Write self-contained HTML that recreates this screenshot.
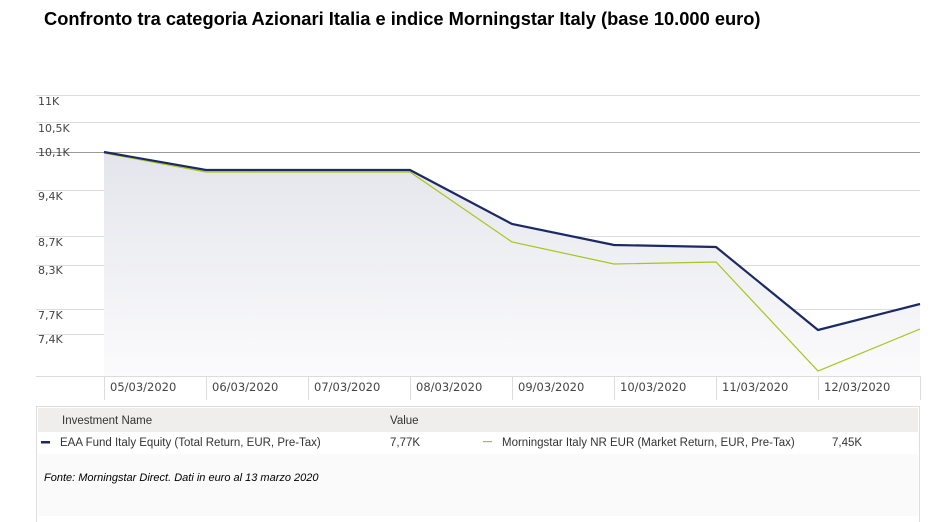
<!DOCTYPE html>
<html><head><style>
body{margin:0;background:#fff;width:940px;height:522px;overflow:hidden;font-family:"DejaVu Sans","Liberation Sans",sans-serif;}
.t{position:absolute;left:44px;top:8px;font:bold 18.3px "Liberation Sans",sans-serif;color:#000;}
</style></head><body>
<div class="t">Confronto tra categoria Azionari Italia e indice Morningstar Italy (base 10.000 euro)</div>
<svg width="940" height="522" style="position:absolute;left:0;top:0" font-family="DejaVu Sans, Liberation Sans, sans-serif">
<defs><linearGradient id="g" x1="0" y1="0" x2="0" y2="1"><stop offset="0" stop-color="#e4e5ec"/><stop offset="1" stop-color="#fbfbfc"/></linearGradient></defs>
<g stroke="#dcdcdc" stroke-width="1">
<line x1="36" x2="920" y1="95.5" y2="95.5"/><line x1="36" x2="920" y1="122.5" y2="122.5"/>
<line x1="36" x2="920" y1="190.5" y2="190.5"/><line x1="36" x2="920" y1="236.5" y2="236.5"/>
<line x1="36" x2="920" y1="265.5" y2="265.5"/><line x1="36" x2="920" y1="309.5" y2="309.5"/>
<line x1="36" x2="920" y1="334.5" y2="334.5"/><line x1="36" x2="920" y1="376.5" y2="376.5"/>
</g>
<polygon points="104,152 206,170 308,170 410,170 512,224 614,245 716,247 818,330 920,304 920,376 104,376" fill="url(#g)"/>
<line x1="36" x2="920" y1="152.5" y2="152.5" stroke="#999"/>
<g stroke="#dcdcdc"><line x1="104.5" x2="104.5" y1="376" y2="400"/><line x1="206.5" x2="206.5" y1="376" y2="400"/><line x1="308.5" x2="308.5" y1="376" y2="400"/><line x1="410.5" x2="410.5" y1="376" y2="400"/><line x1="512.5" x2="512.5" y1="376" y2="400"/><line x1="614.5" x2="614.5" y1="376" y2="400"/><line x1="716.5" x2="716.5" y1="376" y2="400"/><line x1="818.5" x2="818.5" y1="376" y2="400"/><line x1="920.5" x2="920.5" y1="376" y2="400"/></g>
<polyline points="104,153 206,172 308,172 410,172 512,242 614,264 716,262 818,371 920,329" fill="none" stroke="#a9c41a" stroke-width="1.2"/>
<polyline points="104,152 206,170 308,170 410,170 512,224 614,245 716,247 818,330 920,304" fill="none" stroke="#1c2a63" stroke-width="2.2"/>
<g font-size="11" fill="#444">
<text x="38" y="105">11K</text><text x="38" y="132">10,5K</text><text x="38" y="156">10,1K</text><text x="38" y="200">9,4K</text><text x="38" y="246">8,7K</text><text x="38" y="274">8,3K</text><text x="38" y="319">7,7K</text><text x="38" y="343">7,4K</text>
<g font-size="11.5"><text x="110" y="391">05/03/2020</text><text x="212" y="391">06/03/2020</text><text x="314" y="391">07/03/2020</text><text x="416" y="391">08/03/2020</text><text x="518" y="391">09/03/2020</text><text x="620" y="391">10/03/2020</text><text x="722" y="391">11/03/2020</text><text x="824" y="391">12/03/2020</text></g>
</g>
<rect x="36.5" y="406.5" width="883" height="120" fill="#fff" stroke="#ddd"/>
<rect x="38" y="408" width="880" height="24" fill="#f0eeec"/>
<rect x="38" y="454" width="880" height="62" fill="#fafafa"/>
<g font-family="Liberation Sans, sans-serif" font-size="11.5" fill="#333">
<text x="62" y="424">Investment Name</text><text x="390" y="424">Value</text>
<rect x="41" y="441" width="9" height="2.5" fill="#1c2a63"/>
<text x="60" y="446">EAA Fund Italy Equity (Total Return, EUR, Pre-Tax)</text><text x="390" y="446">7,77K</text>
<rect x="483" y="441" width="9" height="1.2" fill="#a9c41a"/>
<text x="502" y="446">Morningstar Italy NR EUR (Market Return, EUR, Pre-Tax)</text><text x="832" y="446">7,45K</text>
<text x="44" y="481" font-style="italic" font-size="11" fill="#000">Fonte: Morningstar Direct. Dati in euro al 13 marzo 2020</text>
</g>
</svg>
</body></html>
